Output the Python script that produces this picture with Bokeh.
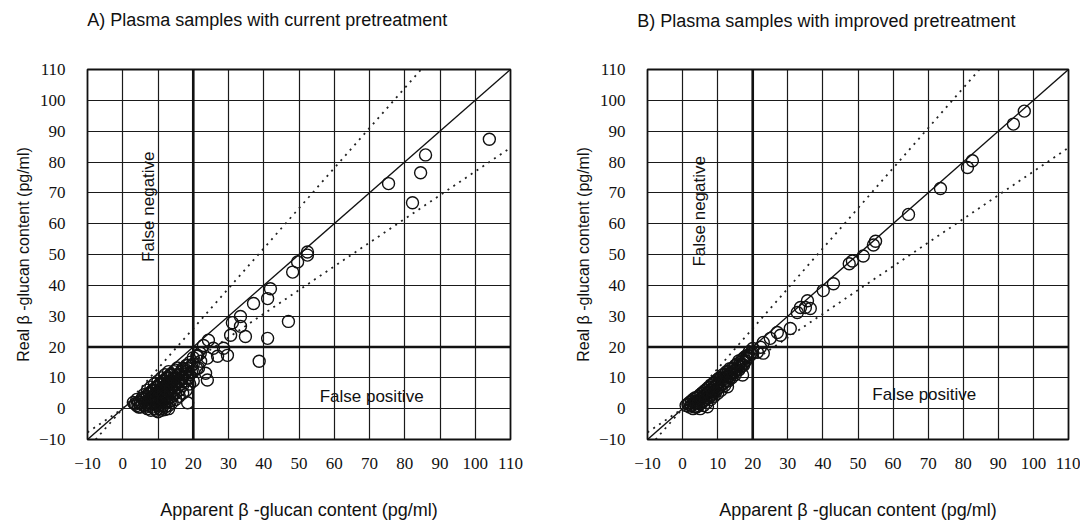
from bokeh.plotting import figure
from bokeh.layouts import row
from bokeh.models import Range1d, FixedTicker, Span, LinearAxis
from bokeh.core.properties import value
from bokeh.embed import file_html
from bokeh.resources import INLINE
import math

# ---------------- data ----------------
ticks = [-10, 0, 10, 20, 30, 40, 50, 60, 70, 80, 90, 100, 110]
cutoff = 20
ratio = 1.3
identity_x = [-10, 110]
upper_x = [-7.7, 110 / 1.3]
lower_x = [-10, 110]

titles = ["A) Plasma samples with current pretreatment",
          "B) Plasma samples with improved pretreatment"]
title_anchor = 41  # data x at which each panel title is centred
x_label = "Apparent \u03b2 -glucan content (pg/ml)"
y_label = "Real \u03b2 -glucan content (pg/ml)"

# Panel A (current pretreatment): apparent vs real
a_apparent = [104, 85.9, 84.5, 75.4, 82.2, 52.4, 52.4, 49.6, 48.2, 41.9, 41.1, 37.1, 47.0,
              33.4, 31.1, 33.4, 30.6, 34.8, 41.1, 38.7, 24.3, 22.9, 25.7, 28.6, 29.7, 26.9,
              24.0, 22.1, 23.5, 24.0, 18.4, 21.2, 21.5, 15.5, 18.4,
              3, 4, 4, 5, 5, 6, 6, 6, 7, 7, 7, 7, 8, 8, 8, 8, 8, 9, 9, 9, 9, 9,
              10, 10, 10, 10, 10, 10, 11, 11, 11, 11, 11, 11, 12, 12, 12, 12, 12, 12,
              13, 13, 13, 13, 13, 13, 14, 14, 14, 14, 14, 15, 15, 15, 15, 15,
              16, 16, 16, 16, 17, 17, 17, 17, 18, 18, 18, 18, 19, 19, 19, 20, 20, 20,
              21, 21, 22, 9.5, 10.5, 11.5, 12.5, 8.5, 13.5, 14.5,
              4.5, 5.5, 5.5, 6.5, 6.5, 7.5, 7.5, 7.5, 8.5, 8.5, 8.5, 9.5, 9.5, 9.5, 9.5,
              10.5, 10.5, 10.5, 10.5, 11.5, 11.5, 11.5, 11.5, 12.5, 12.5, 12.5, 12.5,
              13.5, 13.5, 13.5, 13.5, 14.5, 14.5, 14.5, 14.5, 15.5, 15.5, 15.5,
              16.5, 16.5, 16.5, 17.5, 17.5, 17.5, 18.5, 18.5, 19.5, 19.5, 20, 3.5, 4.5,
              11, 12, 13]
a_real = [87.4, 82.3, 76.5, 73.0, 66.8, 50.8, 49.8, 47.6, 44.3, 38.9, 35.7, 34.1, 28.3,
          29.9, 27.9, 26.7, 23.8, 23.4, 22.8, 15.4, 22.2, 20.5, 19.6, 19.6, 17.3, 17.0,
          16.4, 15.4, 11.5, 9.3, 1.9, 17.3, 13.2, 13.2, 14.1,
          2, 1, 3, 2, 0.5, 1, 3, 4.5, 0, 2, 4, 6, -0.5, 1.5, 3, 5, 7, 0, 2, 4, 6, 8,
          -1, 1, 3, 5, 7, 9, 0, 2, 4, 6, 8, 10, 0.5, 3, 5, 7, 9, 11,
          1, 3.5, 6, 8, 10, 12, 2, 4, 7, 9, 11, 3, 5, 8, 10, 12.5,
          4, 6, 9, 11, 5, 7.5, 10, 13, 6, 9, 12, 14, 8, 11, 15, 9, 12, 16.5,
          13, 17, 18, -0.5, 0, 1, 2, 0.5, 2.5, 5,
          2, 1.5, 3.5, 2, 0.5, 1, 3, 5, 2.5, 4, 6, 1.5, 3, 5, 7,
          2, 4, 6, 8, 3, 5, 7, 9, 4, 6, 8, 10,
          5, 7, 9, 11, 6, 8, 10, 12, 7, 9, 11,
          8, 10, 12, 9, 11, 13, 10, 13, 12, 14, 14.5, 1.5, 0.5,
          -0.5, -0.3, 0]

# Panel B (improved pretreatment): apparent vs real
b_apparent = [97.4, 94.3, 82.6, 81.2, 73.5, 64.4, 55.0, 54.4, 51.5, 48.4, 47.5, 43.0,
              40.1, 35.6, 35.0, 36.4, 33.6, 32.7, 30.7, 27.9, 27.0, 25.0, 23.0, 22.2,
              21.3, 23.0, 18.5, 17.4, 17.1, 12.8, 7.1,
              1, 2, 2, 3, 3, 3, 4, 4, 4, 5, 5, 5, 5, 6, 6, 6, 6, 7, 7, 7, 7,
              8, 8, 8, 8, 9, 9, 9, 9, 10, 10, 10, 10, 11, 11, 11, 12, 12, 12,
              13, 13, 13, 14, 14, 14, 15, 15, 15, 16, 16, 16, 17, 17, 18, 18,
              19, 19, 20, 20,
              1.5, 2.5, 2.5, 3.5, 3.5, 3.5, 4.5, 4.5, 4.5, 5.5, 5.5, 5.5, 6.5, 6.5, 6.5,
              7.5, 7.5, 7.5, 8.5, 8.5, 8.5, 9.5, 9.5, 9.5, 10.5, 10.5, 10.5,
              11.5, 11.5, 11.5, 12.5, 12.5, 12.5, 13.5, 13.5, 13.5, 14.5, 14.5,
              15.5, 15.5, 16.5, 16.5, 17.5, 17.5, 18.5, 19.5]
b_real = [96.5, 92.3, 80.4, 78.2, 71.4, 63.0, 54.3, 53.1, 49.5, 47.9, 47.0, 40.5,
          38.3, 35.0, 32.8, 32.5, 32.8, 31.2, 26.0, 23.8, 24.7, 22.8, 21.5, 19.9,
          18.3, 18.0, 17.3, 14.1, 10.9, 7.1, 0.6,
          1, 0.5, 2, 0, 1.5, 3, 0.5, 2, 3.5, 0, 1.5, 3, 4.5, 1, 2.5, 4, 5.5, 2, 3.5, 5, 6.5,
          3, 4.5, 6, 7.5, 4, 5.5, 7, 8.5, 5, 6.5, 8, 9.5, 6, 8, 10, 7.5, 9, 11,
          9, 10.5, 12, 10, 11.5, 13, 11, 12.5, 14, 12.5, 14, 15.5, 14, 16, 15.5, 17,
          17, 18.5, 18, 19.5,
          1.5, 1, 2.5, 0.5, 2, 3.5, 1, 2.5, 4, 2, 3.5, 5, 3, 4.5, 6,
          3.5, 5, 7, 4.5, 6, 8, 5.5, 7, 9, 7, 8.5, 10,
          8, 9.5, 11, 9, 10.5, 12, 10, 11.5, 13, 11.5, 13,
          12.5, 14.5, 13.5, 15, 15, 16.5, 16.5, 18]

# text annotation anchors (data units)
neg_pos = [(7.3, 65.5), (4.9, 64.0)]
pos_pos = [(70.6, 4.1), (68.9, 4.5)]

SANS = "Liberation Sans"
SERIF = "Liberation Serif"
INK = "#111111"


def make_panel(title, xs, ys, width, bl, br, bt, bb, title_standoff, neg, pos):
    p = figure(width=width, height=522, output_backend="svg", toolbar_location=None,
               x_range=Range1d(-10, 110), y_range=Range1d(-10, 110),
               min_border_left=bl, min_border_right=br,
               min_border_top=bt, min_border_bottom=bb)

    for ax in (p.xaxis[0], p.yaxis[0]):
        ax.ticker = FixedTicker(ticks=ticks)
        ax.major_tick_in = 0
        ax.major_tick_out = 0
        ax.minor_tick_in = 0
        ax.minor_tick_out = 0
        ax.axis_line_color = None
        ax.major_label_text_font = SERIF
        ax.major_label_text_font_size = "17px"
        ax.major_label_text_color = INK
        ax.axis_label_text_font = SANS
        ax.axis_label_text_font_style = "normal"
        ax.axis_label_text_color = INK
    p.xaxis.axis_label = x_label
    p.yaxis.axis_label = y_label
    p.xaxis.axis_label_text_font_size = "18px"
    p.yaxis.axis_label_text_font_size = "16px"
    p.xaxis.major_label_standoff = 18
    p.xaxis.axis_label_standoff = 28
    p.yaxis.major_label_standoff = 22
    p.yaxis.axis_label_standoff = 4
    p.yaxis.major_label_orientation = "horizontal"

    # panel title carried by a tick-less axis on top of the frame
    top = LinearAxis(ticker=FixedTicker(ticks=[title_anchor]),
                     major_label_overrides={title_anchor: title},
                     axis_line_color=None, major_tick_in=0, major_tick_out=0,
                     minor_tick_in=0, minor_tick_out=0,
                     major_label_standoff=title_standoff,
                     major_label_text_font=SANS, major_label_text_font_size="18px",
                     major_label_text_color=INK)
    p.add_layout(top, "above")

    p.xgrid.ticker = FixedTicker(ticks=ticks)
    p.ygrid.ticker = FixedTicker(ticks=ticks)
    for g in (p.xgrid[0], p.ygrid[0]):
        g.grid_line_color = "#1a1a1a"
        g.grid_line_alpha = 1.0
        g.grid_line_width = 1.2
    p.outline_line_color = INK
    p.outline_line_width = 1.8
    p.background_fill_color = "white"
    p.border_fill_color = "white"

    p.add_layout(Span(location=cutoff, dimension="height", line_color=INK, line_width=2.6))
    p.add_layout(Span(location=cutoff, dimension="width", line_color=INK, line_width=2.6))

    p.line(identity_x, identity_x, line_color=INK, line_width=1.4)
    p.line(upper_x, [v * ratio for v in upper_x], line_color="#222222", line_width=1.8,
           line_dash="2 5")
    p.line(lower_x, [v / ratio for v in lower_x], line_color="#222222", line_width=1.8,
           line_dash="2 5")

    p.scatter(xs, ys, marker="circle", size=12, fill_color=None,
              line_color=INK, line_width=1.4)

    p.text([neg[0]], [neg[1]], text=["False negative"], angle=math.pi / 2,
           text_align="center", text_baseline="middle", text_font=value(SANS),
           text_font_size="17px", text_color=INK)
    p.text([pos[0]], [pos[1]], text=["False positive"],
           text_align="center", text_baseline="middle", text_font=value(SANS),
           text_font_size="17px", text_color=INK)
    return p


p1 = make_panel(titles[0], a_apparent, a_real, 545, 87, 35, 69, 80, 40, neg_pos[0], pos_pos[0])
p2 = make_panel(titles[1], b_apparent, b_real, 535, 102, 12, 67, 82, 39, neg_pos[1], pos_pos[1])

layout = row(p1, p2)
open("out.html", "w").write(file_html(layout, INLINE))
